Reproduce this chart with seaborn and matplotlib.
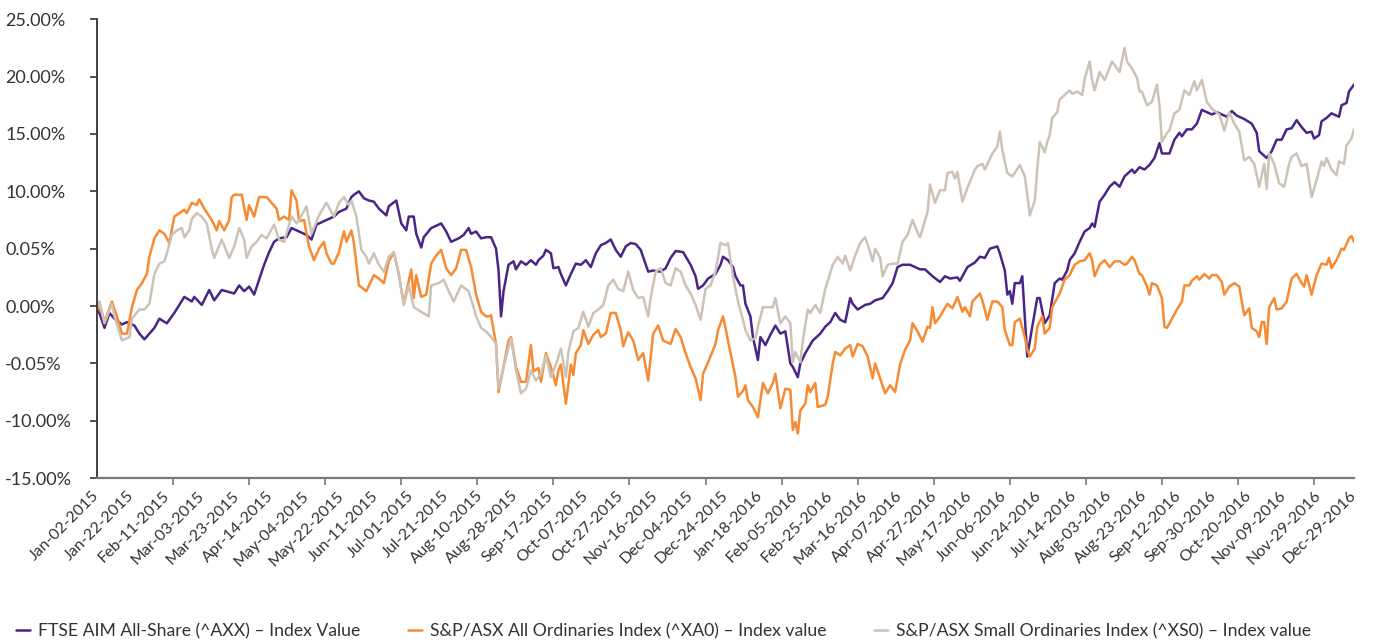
import numpy as np
import pandas as pd
import seaborn as sns
import matplotlib.pyplot as plt

# series: trading-day index (0 = Jan-02-2015) and % change
aim_day = [0, 3, 5, 7, 10, 12, 15, 17, 19, 21, 23, 25, 28, 31, 35, 38, 39, 42, 45, 47, 50, 55, 57, 59, 61, 63, 65, 67, 69, 71, 73, 76, 78,
           81, 84, 86, 88, 91, 93, 95, 97, 100, 102, 103, 105, 107, 109, 111, 113, 116, 117, 120, 122, 124, 125, 127, 128, 130, 131, 134, 137, 138, 140, 142, 145, 147, 149, 150, 152, 154, 156, 158, 160, 161, 162, 163,
           165, 167, 168, 170, 172, 174, 176, 177, 179, 180, 182, 183, 185, 186, 188, 190, 192, 194, 196, 198, 200, 202, 204, 206, 208, 210, 212, 214, 216, 218, 221, 223, 226, 228, 230, 232, 235, 238, 240, 241, 243, 245,
           248, 250, 251, 253, 255, 256, 258, 259, 260, 262, 263, 265, 266, 268, 270, 272, 274, 276, 278, 279, 281, 282, 284, 287, 290, 292, 294, 296, 298, 300, 302, 303, 305, 308, 310, 312, 315, 317, 319, 321, 323, 326,
           328, 330, 332, 335, 338, 340, 342, 345, 346, 349, 352, 354, 356, 358, 361, 362, 364, 365, 366, 367, 368, 370, 371, 372, 373, 375, 377, 378, 380, 382, 384, 386, 387, 389, 390, 392, 394, 396, 398, 399, 400, 402, 404, 406, 408,
           410, 412, 415, 416, 418, 420, 422, 424, 426, 427, 430, 432, 434, 435, 437, 439, 441, 443, 445, 447, 449, 451, 453, 455, 457, 460, 463, 465, 466, 467, 469, 471, 473, 475, 477, 479, 481, 483, 485, 487, 488, 490, 491, 493, 495, 498, 499, 501, 502, 504]
aim_val = [0.0, -1.9, -0.6, -1.1, -1.6, -1.4, -1.7, -2.4, -2.9, -2.4, -1.9, -1.1, -1.5, -0.6, 0.8, 0.4, 0.8, 0.1, 1.4, 0.5, 1.4, 1.1, 1.8, 1.3, 1.7, 1.0, 2.3, 3.6, 4.7, 5.6, 5.9, 6.0, 6.8,
           6.5, 6.2, 5.8, 7.1, 7.4, 7.6, 7.8, 8.2, 8.5, 9.5, 9.7, 10.0, 9.4, 9.2, 9.1, 8.5, 7.9, 8.7, 9.2, 7.2, 6.6, 7.8, 7.8, 6.3, 5.1, 6.0, 6.8, 7.1, 7.2, 6.5, 5.6, 5.9, 6.2, 6.8, 6.3, 6.5, 5.9, 6.0, 6.0, 5.0, 3.1, -0.9, 1.3,
           3.6, 3.9, 3.2, 3.9, 3.6, 4.0, 3.6, 4.0, 4.4, 4.9, 4.6, 3.3, 3.4, 2.8, 1.8, 2.8, 3.7, 3.6, 4.0, 3.4, 4.6, 5.3, 5.5, 5.8, 4.9, 4.3, 5.2, 5.5, 5.4, 4.9, 3.0, 3.1, 3.0, 3.3, 4.2, 4.8, 4.7, 3.6, 2.6, 1.5, 1.8, 2.4,
           2.8, 3.6, 4.3, 4.0, 3.4, 2.6, 1.8, 1.8, 0.2, -0.9, -2.7, -4.7, -2.7, -3.4, -2.5, -1.7, -2.4, -2.2, -5.0, -5.3, -6.2, -5.0, -4.1, -3.0, -2.4, -1.8, -1.4, -0.6, -1.2, -1.4, 0.7, 0.2, -0.3, 0.1, 0.2, 0.5, 0.7, 1.3, 2.0, 3.4, 3.6, 3.6,
           3.4, 3.2, 3.2, 2.6, 2.1, 2.6, 2.4, 2.5, 2.2, 3.4, 3.8, 4.3, 4.2, 5.0, 5.2, 4.6, 3.1, 1.0, 1.3, 0.2, 2.0, 2.0, 2.6, -0.9, -4.4, -1.8, 0.7, 0.7, -1.5, -0.8, 2.0, 2.4, 2.3, 3.1, 4.0, 4.6, 5.6, 6.5, 6.8, 7.2, 6.9, 9.1, 9.7, 10.4, 10.8,
           10.4, 11.3, 11.9, 11.6, 12.1, 11.9, 12.3, 12.9, 14.2, 13.3, 13.3, 14.5, 15.1, 14.8, 15.4, 15.4, 15.9, 17.1, 16.9, 16.7, 16.9, 16.7, 16.5, 17.0, 16.6, 16.3, 15.9, 15.1, 13.5, 13.3, 12.9, 13.5, 14.5, 14.5, 15.4, 15.5, 16.2, 15.6, 15.1, 15.2, 14.6, 14.9, 16.1, 16.4, 16.8, 16.5, 17.5, 17.7, 18.7, 19.3]

xao_day = [0, 2, 3, 6, 8, 10, 12, 14, 16, 18, 20, 21, 23, 25, 27, 29, 31, 33, 35, 36, 38, 40, 41, 43, 46, 48, 49, 51, 53, 54, 55, 58, 60, 61, 63, 65, 68, 70, 72, 73, 75, 77, 78, 80,
           81, 83, 85, 87, 89, 91, 92, 94, 95, 97, 99, 100, 102, 103, 105, 108, 111, 113, 115, 117, 119, 121, 123, 126, 127, 128, 130, 132, 134, 136, 138, 140, 142, 144, 146, 148, 150, 152, 154, 156, 157, 158, 159, 160, 161, 163,
           165, 166, 168, 170, 172, 174, 175, 177, 178, 180, 182, 184, 185, 186, 188, 190, 191, 192, 194, 195, 197, 199, 201, 202, 204, 206, 208, 210, 211, 213, 215, 217, 219, 221, 223, 225, 227, 230, 232, 234, 236, 238, 240, 242, 243, 245,
           248, 249, 251, 252, 254, 256, 257, 259, 260, 261, 262, 263, 265, 267, 269, 271, 272, 274, 276, 278, 279, 280, 281, 282, 284, 285, 286, 288, 289, 292, 293, 295, 296, 298, 300, 302, 303, 305, 307, 309, 311, 312, 314, 316, 318, 320, 322, 324, 326, 327,
           329, 331, 333, 334, 335, 336, 338, 341, 343, 345, 347, 348, 350, 351, 354, 355, 357, 359, 361, 363, 364, 366, 367, 368, 370, 372, 373, 374, 376, 377, 379, 380, 382, 383, 386, 388, 390, 392, 394, 396, 398, 399, 400, 402, 404, 406, 408,
           410, 412, 413, 415, 416, 418, 419, 421, 422, 423, 425, 427, 428, 429, 431, 433, 435, 436, 438, 439, 441, 442, 444, 446, 447, 449, 451, 452, 454, 456, 458, 460, 462, 463, 465, 466, 467, 468, 469, 470, 472, 473, 475, 477, 479, 481, 483, 484, 485, 487, 489, 491, 493, 494, 495, 497, 499, 500, 502, 503, 504]
xao_val = [0.0, -0.6, -1.4, 0.4, -0.9, -2.4, -2.4, -0.1, 1.4, 2.0, 2.8, 4.3, 5.9, 6.6, 6.3, 5.5, 7.8, 8.1, 8.4, 8.1, 9.0, 8.8, 9.3, 8.5, 7.5, 6.6, 7.4, 6.6, 7.5, 9.5, 9.7, 9.7, 7.5, 8.8, 7.8, 9.5, 9.5, 9.0, 8.5, 7.5, 7.8, 7.5, 10.1, 9.2,
           7.4, 7.5, 5.2, 4.0, 5.0, 5.6, 4.6, 3.7, 3.7, 4.7, 6.5, 5.6, 6.6, 5.5, 1.8, 1.3, 2.7, 2.4, 2.0, 3.9, 4.7, 2.8, 0.2, 3.2, 0.7, 2.7, 0.8, 1.0, 3.7, 4.4, 4.9, 3.3, 2.7, 3.3, 4.9, 4.9, 3.4, 1.0, -0.5, -0.9, -0.9, -0.8, -2.1, -3.3, -7.5, -5.3,
           -3.0, -2.7, -5.3, -6.6, -6.6, -3.4, -5.7, -5.4, -6.6, -4.1, -5.3, -6.9, -5.6, -5.1, -8.5, -5.1, -6.0, -4.1, -3.4, -2.1, -3.3, -2.5, -2.1, -2.7, -2.4, -0.6, -0.6, -2.1, -3.5, -2.3, -3.0, -4.7, -4.1, -6.5, -2.4, -1.7, -3.0, -3.3, -2.0, -2.7, -4.1, -5.3, -6.3, -8.2, -5.9, -4.9,
           -3.3, -2.1, -0.9, -1.9, -4.1, -6.2, -7.9, -7.4, -6.9, -8.2, -8.5, -8.8, -9.7, -6.7, -7.6, -6.7, -5.9, -8.9, -7.2, -7.3, -10.8, -10.1, -11.1, -9.1, -8.5, -6.9, -7.5, -6.7, -8.8, -8.6, -7.9, -5.0, -4.0, -4.3, -3.7, -3.4, -4.4, -3.3, -3.5, -4.4, -6.3, -5.0, -6.3, -7.6, -6.9, -7.5, -5.1, -3.8, -3.0, -1.5,
           -2.2, -3.1, -1.8, -1.9, -0.1, -1.5, -0.9, 0.2, -0.2, 0.8, -0.5, -0.1, -0.9, 0.4, 1.1, 0.5, -1.2, 0.4, 0.4, -0.1, -2.1, -3.4, -3.4, -1.4, -1.1, -2.7, -3.8, -4.4, -3.7, -1.8, -0.9, -2.4, -1.9, -0.1, 1.1, 2.3, 2.7, 3.6, 3.9, 4.0, 4.6, 4.0, 2.6, 3.6, 4.0, 3.4, 3.9,
           3.9, 3.6, 3.7, 4.3, 4.0, 2.8, 2.7, 1.7, 1.0, 2.0, 1.8, 0.7, -1.8, -1.9, -1.1, -0.3, 0.4, 1.8, 1.8, 2.2, 2.6, 2.3, 2.8, 2.4, 2.7, 2.7, 2.1, 1.0, 1.7, 2.0, 1.7, -0.8, -0.2, -1.9, -2.2, -2.7, -1.4, -1.4, -3.3, -0.1, 0.7, -0.3, -0.2, 0.4, 2.4, 2.8, 2.0, 1.7, 2.7, 1.0, 2.7, 3.7, 3.6, 4.2, 3.3, 4.0, 5.0, 4.9, 5.9, 6.1, 5.6]

xso_day = [0, 1, 3, 6, 7, 10, 13, 14, 17, 19, 21, 23, 25, 27, 28, 30, 32, 34, 35, 37, 38, 40, 42, 44, 46, 47, 50, 53, 55, 57, 59, 60, 62, 64, 66, 68, 71, 73, 75, 78, 80,
           81, 84, 86, 89, 92, 95, 97, 99, 101, 102, 104, 106, 108, 109, 111, 113, 115, 117, 119, 121, 123, 125, 127, 130, 133, 134, 137, 139, 141, 143, 146, 149, 151, 152, 154, 156, 158, 160, 161, 163,
           166, 168, 170, 172, 174, 176, 178, 180, 182, 184, 186, 188, 189, 191, 193, 195, 197, 199, 201, 203, 205, 207, 209, 211, 213, 215, 217, 219, 221, 222, 224, 226, 228, 230, 232, 234, 236, 238, 240, 242, 244,
           246, 248, 250, 252, 253, 255, 257, 259, 260, 262, 264, 265, 267, 269, 271, 272, 274, 276, 278, 279, 280, 282, 283, 285, 286, 288, 290, 292, 295, 297, 299, 300, 302, 304, 306, 308, 310, 311, 312, 314, 315, 317, 319, 321, 323, 325, 327,
           329, 330, 333, 334, 336, 338, 340, 341, 343, 344, 345, 347, 349, 352, 353, 355, 356, 359, 361, 362, 363, 365, 367, 368, 370, 372, 373, 374, 376, 377, 378, 380, 381, 382, 383, 385, 386, 388, 390, 391, 393, 395, 396, 398, 399, 400, 402, 404, 407,
           410, 412, 413, 415, 417, 418, 419, 421, 423, 425, 426, 427, 429, 430, 432, 434, 436, 438, 440, 441, 443, 445, 447, 450, 452, 454, 456, 458, 460, 462, 464, 466, 467, 468, 469, 470, 472, 474, 476, 478, 479, 481, 483, 485, 486, 487, 489, 491, 492, 493, 495, 497, 498, 500, 501, 503, 504]
xso_val = [0.0, 0.4, -1.5, 0.2, -0.9, -3.0, -2.7, -1.1, -0.3, -0.3, 0.2, 2.8, 3.7, 3.9, 4.6, 6.2, 6.6, 6.8, 6.0, 6.6, 7.6, 8.1, 7.8, 7.2, 5.0, 4.2, 5.8, 4.2, 5.2, 6.8, 5.8, 4.2, 5.2, 5.6, 6.2, 5.9, 7.1, 5.8, 5.6, 7.8, 7.2,
           7.5, 8.7, 6.3, 7.9, 9.0, 7.8, 9.0, 9.5, 8.8, 9.2, 7.8, 4.9, 4.3, 3.7, 4.6, 3.6, 3.0, 4.3, 4.7, 2.8, 0.1, 1.8, -0.1, -0.5, -0.9, 1.8, 2.0, 2.3, 1.3, 0.4, 1.8, 1.3, -0.1, -0.9, -1.9, -2.2, -2.7, -3.3, -7.2, -5.3,
           -2.8, -5.6, -7.6, -7.2, -5.6, -6.5, -5.9, -4.3, -6.2, -5.1, -3.7, -6.2, -4.0, -2.2, -1.9, -0.5, -1.8, -0.6, -0.3, 0.1, 1.8, 2.3, 1.5, 1.3, 3.0, 1.4, 0.7, 0.8, -0.9, 0.7, 3.0, 3.3, 2.0, 1.8, 3.3, 3.0, 1.8, 1.1, 0.1, -1.2, 1.5,
           1.8, 3.0, 5.5, 5.3, 5.5, 2.6, 0.4, -1.2, -2.1, -3.0, -2.8, -1.8, -0.1, -0.1, -0.1, 0.7, -1.5, -0.9, -1.5, -4.9, -4.0, -4.9, -3.0, -0.3, -0.6, 0.1, -0.6, 1.5, 3.6, 4.3, 3.7, 4.4, 3.1, 4.4, 5.5, 6.0, 4.7, 3.9, 5.0, 4.2, 2.6, 3.6, 3.7, 3.7, 5.6, 6.2, 7.5,
           6.4, 6.0, 8.2, 10.6, 9.0, 10.1, 10.1, 11.6, 11.7, 11.1, 11.7, 9.1, 10.3, 11.9, 12.2, 12.4, 11.9, 13.3, 13.9, 15.2, 13.6, 11.6, 11.3, 11.6, 12.3, 11.3, 9.7, 7.9, 9.2, 11.9, 14.3, 13.4, 14.3, 14.9, 16.4, 16.9, 18.0, 18.4, 18.8, 18.5, 18.7, 18.4, 19.8, 21.3, 19.7, 18.8, 20.4, 19.7, 21.3,
           20.4, 22.5, 21.3, 20.7, 19.9, 18.7, 18.7, 17.5, 17.8, 19.3, 17.5, 14.3, 15.1, 15.3, 16.8, 17.1, 18.8, 18.4, 19.6, 18.8, 19.7, 17.8, 17.2, 16.7, 15.3, 16.9, 15.9, 15.2, 12.7, 13.0, 12.4, 10.4, 11.4, 12.4, 10.2, 13.3, 12.4, 10.7, 10.4, 12.4, 13.0, 13.3, 12.2, 12.4, 11.0, 9.5, 11.0, 12.6, 12.2, 12.9, 11.9, 11.4, 12.6, 12.4, 14.0, 14.6, 15.4]

series_names = ["FTSE AIM All-Share (^AXX) – Index Value",
                "S&P/ASX All Ordinaries Index (^XA0) – Index value",
                "S&P/ASX Small Ordinaries Index (^XS0) – Index value"]
colors = ["#4a2587", "#f68b33", "#cdc2b6"]

date_labels = ["Jan-02-2015", "Jan-22-2015", "Feb-11-2015", "Mar-03-2015", "Mar-23-2015", "Apr-14-2015",
               "May-04-2015", "May-22-2015", "Jun-11-2015", "Jul-01-2015", "Jul-21-2015", "Aug-10-2015",
               "Aug-28-2015", "Sep-17-2015", "Oct-07-2015", "Oct-27-2015", "Nov-16-2015", "Dec-04-2015",
               "Dec-24-2015", "Jan-18-2016", "Feb-05-2016", "Feb-25-2016", "Mar-16-2016", "Apr-07-2016",
               "Apr-27-2016", "May-17-2016", "Jun-06-2016", "Jun-24-2016", "Jul-14-2016", "Aug-03-2016",
               "Aug-23-2016", "Sep-12-2016", "Sep-30-2016", "Oct-20-2016", "Nov-09-2016", "Nov-29-2016",
               "Dec-29-2016"]
label_step = 14
y_ticks = [-15, -10, -5, 0, 5, 10, 15, 20, 25]
y_labels = ["-15.00%", "-10.00%", "-0.05%", "0.00%", "0.05%", "10.00%", "15.00%", "20.00%", "25.00%"]

# long form table for seaborn
frames = []
for name, d, v in zip(series_names, [aim_day, xao_day, xso_day], [aim_val, xao_val, xso_val]):
    frames.append(pd.DataFrame({"day": d, "value": v, "series": name}))
df = pd.concat(frames, ignore_index=True)

sns.set_theme(style="white")
plt.rcParams["font.family"] = ["Lato", "DejaVu Sans"]

fig, ax = plt.subplots(figsize=(13.76, 6.41), dpi=100)
fig.subplots_adjust(left=0.0705, right=0.984, top=0.970, bottom=0.254)

sns.lineplot(data=df, x="day", y="value", hue="series", hue_order=series_names,
             palette=dict(zip(series_names, colors)), linewidth=1.8,
             estimator=None, sort=False, legend=False, ax=ax)

last_day = label_step * (len(date_labels) - 1)
ax.set_xlim(0, last_day)
ax.set_ylim(-15, 25)
ax.set_xlabel("")
ax.set_ylabel("")

# y labels are left aligned against the figure edge
ax.set_yticks(y_ticks)
ax.set_yticklabels(y_labels, fontsize=13, color="#333333", ha="left")
ax.tick_params(axis="y", length=5, width=1.2, color="#333333", left=True, pad=61)

ax.set_xticks(np.arange(len(date_labels)) * label_step)
ax.set_xticklabels(date_labels, rotation=45, ha="right", va="center",
                   rotation_mode="anchor", fontsize=11.5, color="#333333")
ax.set_xticks(np.arange(17) * 30.5, minor=True)
ax.tick_params(axis="x", which="major", length=0, pad=11)
ax.tick_params(axis="x", which="minor", length=5, width=1.2, color="#777777", bottom=True)

sns.despine(ax=ax)
ax.spines["left"].set_color("#333333")
ax.spines["left"].set_linewidth(1.3)
ax.spines["bottom"].set_color("#777777")
ax.spines["bottom"].set_linewidth(1.6)

handles = ax.get_lines()[:3]
fig.legend(handles, series_names, loc="lower left", bbox_to_anchor=(0.0, -0.022),
           ncol=3, frameon=False, fontsize=12.7, handlelength=0.8, handletextpad=0.45,
           columnspacing=2.7, labelcolor="#333333")

plt.savefig("out.png")
